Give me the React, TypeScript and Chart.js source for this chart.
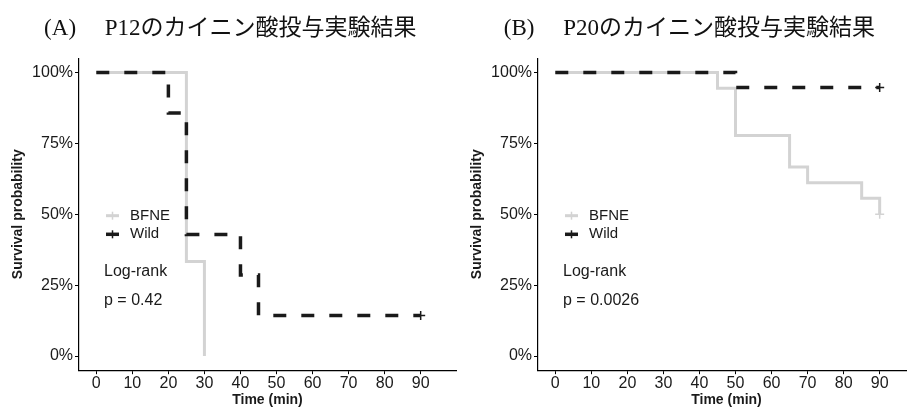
import React, { useEffect, useRef } from "react";
import { Chart, registerables } from "chart.js";

Chart.register(...registerables);

// ---- data ----
const groupLabels = ["BFNE", "Wild"];
const groupColors = ["#d3d3d3", "#1a1a1a"];

const timesA_BFNE = [0, 25, 30];
const survA_BFNE = [1, 0.333, 0];
const censorA_BFNE: number[] = [];
const timesA_Wild = [0, 20, 25, 40, 45, 90];
const survA_Wild = [1, 0.857, 0.429, 0.286, 0.143, 0.143];
const censorA_Wild = [90];

const timesB_BFNE = [0, 45, 50, 65, 70, 85, 90];
const survB_BFNE = [1, 0.944, 0.778, 0.667, 0.611, 0.556, 0.5];
const censorB_BFNE = [90];
const timesB_Wild = [0, 50, 90];
const survB_Wild = [1, 0.947, 0.947];
const censorB_Wild = [90];

const xTicks = [0, 10, 20, 30, 40, 50, 60, 70, 80, 90];
const yTicks = [0, 0.25, 0.5, 0.75, 1];
const yTickLabels = ["0%", "25%", "50%", "75%", "100%"];

const panelTitles = [
  "(A)\u3000 P12のカイニン酸投与実験結果",
  "(B)\u3000 P20のカイニン酸投与実験結果",
];
const testName = "Log-rank";
const pValues = ["p = 0.42", "p = 0.0026"];
const xTitle = "Time (min)";
const yTitle = "Survival probability";

const SANS = '"Liberation Sans", Arial, Helvetica, sans-serif';
const TEXT = "#1a1a1a";

const annotPlugin = {
  id: "kmAnnot",
  afterDatasetsDraw(chart: any, _args: any, opts: any) {
    const { ctx, chartArea } = chart;
    const L = chartArea.left;
    const T = chartArea.top;
    ctx.save();
    chart.data.datasets.forEach((ds: any, i: number) => {
      const y = T + 157.4 + i * 18.6;
      const x0 = L + 27;
      const x1 = L + 40;
      ctx.strokeStyle = ds.borderColor;
      ctx.lineWidth = ds.borderWidth;
      ctx.setLineDash([]);
      ctx.beginPath();
      ctx.moveTo(x0, y);
      ctx.lineTo(x1, y);
      ctx.stroke();
      ctx.lineWidth = 1.5;
      ctx.beginPath();
      ctx.moveTo((x0 + x1) / 2, y - 4);
      ctx.lineTo((x0 + x1) / 2, y + 4);
      ctx.stroke();
      ctx.fillStyle = TEXT;
      ctx.font = "15px " + SANS;
      ctx.textAlign = "left";
      ctx.textBaseline = "middle";
      ctx.fillText(ds.label, L + 51, y);
    });
    ctx.font = "16px " + SANS;
    ctx.fillStyle = TEXT;
    ctx.textAlign = "left";
    ctx.textBaseline = "middle";
    ctx.fillText(opts.test, L + 25, T + 213.7);
    ctx.fillText(opts.p, L + 25, T + 242.2);
    ctx.restore();
  },
};

function makeDataset(
  label: string,
  color: string,
  times: number[],
  surv: number[],
  censor: number[],
  dashed: boolean,
  order: number
) {
  return {
    label,
    data: times.map((t, i) => ({ x: t, y: surv[i] })),
    stepped: true,
    borderColor: color,
    backgroundColor: color,
    borderWidth: dashed ? 3.5 : 3,
    borderDash: dashed ? [13, 15] : [],
    borderCapStyle: "butt",
    fill: false,
    tension: 0,
    pointStyle: "cross",
    pointRadius: (c: any) => (censor.includes(times[c.dataIndex]) ? 4.5 : 0),
    pointHoverRadius: 0,
    pointBorderColor: color,
    pointBorderWidth: 1.5,
    order,
  };
}

function makeConfig(panel: number): any {
  const datasets =
    panel === 0
      ? [
          makeDataset(groupLabels[0], groupColors[0], timesA_BFNE, survA_BFNE, censorA_BFNE, false, 1),
          makeDataset(groupLabels[1], groupColors[1], timesA_Wild, survA_Wild, censorA_Wild, true, 0),
        ]
      : [
          makeDataset(groupLabels[0], groupColors[0], timesB_BFNE, survB_BFNE, censorB_BFNE, false, 1),
          makeDataset(groupLabels[1], groupColors[1], timesB_Wild, survB_Wild, censorB_Wild, true, 0),
        ];
  return {
    type: "line",
    data: { datasets },
    plugins: [annotPlugin],
    options: {
      responsive: false,
      animation: false,
      devicePixelRatio: 1,
      layout: { padding: { left: 0, right: 1.3, top: 0, bottom: 0 } },
      plugins: {
        legend: { display: false },
        tooltip: { enabled: false },
        title: {
          display: true,
          text: panelTitles[panel],
          align: "center",
          color: "#111",
          font: { family: '"Liberation Serif", "Noto Sans CJK JP", serif', size: 23, weight: "normal", lineHeight: 1.2 },
          padding: { top: 15.2, bottom: 15.5 },
        },
        kmAnnot: { test: testName, p: pValues[panel] },
      },
      scales: {
        x: {
          type: "linear",
          min: -4.8,
          max: 99.8,
          afterBuildTicks: (s: any) => {
            s.ticks = xTicks.map((v) => ({ value: v }));
          },
          afterFit: (s: any) => {
            s.height = 36.8;
          },
          grid: { drawOnChartArea: false, drawTicks: true, tickLength: 4, color: "#000", lineWidth: 1 },
          border: { display: true, color: "#000", width: 1.2 },
          ticks: {
            color: TEXT,
            font: { family: SANS, size: 16 },
            padding: 0,
            maxRotation: 0,
            autoSkip: false,
          },
          title: {
            display: true,
            text: xTitle,
            color: TEXT,
            font: { family: SANS, size: 14, weight: "bold" },
            padding: { top: 0, bottom: -1.5 },
          },
        },
        y: {
          type: "linear",
          min: -0.05,
          max: 1.05,
          afterBuildTicks: (s: any) => {
            s.ticks = yTicks.map((v) => ({ value: v }));
          },
          afterFit: (s: any) => {
            s.width = 79;
          },
          grid: { drawOnChartArea: false, drawTicks: true, tickLength: 4, color: "#000", lineWidth: 1 },
          border: { display: true, color: "#000", width: 1.2 },
          ticks: {
            color: TEXT,
            font: { family: SANS, size: 16 },
            padding: 2,
            autoSkip: false,
            callback: (v: any) => {
              const idx = yTicks.indexOf(Number(v));
              return idx >= 0 ? yTickLabels[idx] : "";
            },
          },
          title: {
            display: true,
            text: yTitle,
            color: TEXT,
            font: { family: SANS, size: 14, weight: "bold" },
            padding: { top: 9.6, bottom: 0 },
          },
        },
      },
    },
  };
}

function Panel({ panel, left }: { panel: number; left: number }) {
  const ref = useRef<HTMLCanvasElement | null>(null);
  useEffect(() => {
    if (!ref.current) return;
    const chart = new Chart(ref.current, makeConfig(panel));
    return () => chart.destroy();
  }, [panel]);
  return (
    <canvas
      ref={ref}
      width={462}
      height={407}
      style={{ position: "absolute", left, top: 0, width: 462, height: 407, display: "block" }}
    />
  );
}

export default function App() {
  return (
    <div
      style={{
        position: "absolute",
        left: 0,
        top: 0,
        width: 907,
        height: 407,
        overflow: "hidden",
        background: "#fff",
      }}
    >
      <Panel panel={0} left={0} />
      <Panel panel={1} left={459} />
    </div>
  );
}
